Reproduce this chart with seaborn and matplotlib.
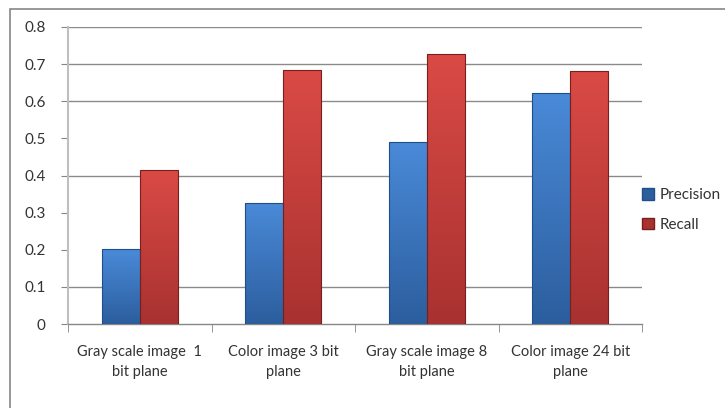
import numpy as np
import pandas as pd
import seaborn as sns
import matplotlib.pyplot as plt
from matplotlib.patches import Rectangle, Patch

categories = ["Gray scale image  1\nbit plane", "Color image 3 bit\nplane",
              "Gray scale image 8\nbit plane", "Color image 24 bit\nplane"]
precision = [0.201, 0.327, 0.491, 0.623]
recall = [0.415, 0.685, 0.728, 0.682]
series = ["Precision", "Recall"]
y_ticks = [0, 0.1, 0.2, 0.3, 0.4, 0.5, 0.6, 0.7, 0.8]
y_labels = ["0", "0.1", "0.2", "0.3", "0.4", "0.5", "0.6", "0.7", "0.8"]
# only these gridlines survive in the reference image
grid_levels = [0.1, 0.4, 0.6, 0.7, 0.8]

df = pd.DataFrame({
    "category": categories * 2,
    "value": precision + recall,
    "series": [series[0]] * 4 + [series[1]] * 4,
})

sns.set_style("white")
plt.rcParams['font.family'] = ['Lato', 'DejaVu Sans']
plt.rcParams['axes.grid'] = False

colors = {"Precision": ("#4A8AD8", "#2C5E9E", "#1F4F8A"),
          "Recall": ("#DA4A45", "#A83230", "#7A1E1E")}

fig = plt.figure(figsize=(7.25, 4.08), dpi=100)
ax = fig.add_axes([68 / 725, 1 - 324 / 408, (642 - 68) / 725, (324 - 27) / 408])

sns.barplot(data=df, x="category", y="value", hue="series",
            palette={k: v[0] for k, v in colors.items()},
            width=0.53, gap=0, ax=ax, legend=False, saturation=1, zorder=3)

# vertical gradient fill on each bar
for patch, name in zip(ax.patches, [series[0]] * 4 + [series[1]] * 4):
    top_c, bot_c, edge_c = colors[name]
    x0, y0 = patch.get_x(), patch.get_y()
    w, h = patch.get_width(), patch.get_height()
    grad = np.linspace(0, 1, 100).reshape(-1, 1)
    cmap = sns.blend_palette([bot_c, top_c], as_cmap=True)
    im = ax.imshow(grad, extent=[x0, x0 + w, y0, y0 + h], origin="lower",
                   cmap=cmap, aspect="auto", zorder=3.5, interpolation="bilinear")
    im.set_clip_path(patch)
    patch.set_edgecolor(edge_c)
    patch.set_linewidth(0.8)
    patch.set_zorder(4)
    patch.set_facecolor("none")

ax.set_xlim(-0.5, 3.5)
ax.set_ylim(0, 0.8)
ax.set_yticks(y_ticks)
ax.set_yticklabels(y_labels)
ax.set_xticks([0, 1, 2, 3])
ax.set_xticklabels(categories, fontsize=10.5, color="#333333", linespacing=1.6)
ax.tick_params(axis="x", length=0, pad=15)
ax.tick_params(axis="y", length=5, color="#868686", labelsize=11, labelcolor="#333333", pad=11, left=True)
# category separator ticks
ax.set_xticks([-0.5, 0.5, 1.5, 2.5, 3.5], minor=True)
ax.tick_params(axis="x", which="minor", length=6, color="#868686", bottom=True)
ax.set_xlabel("")
ax.set_ylabel("")
ax.grid(False, which="both")

for lvl in grid_levels:
    ax.axhline(lvl, color="#8A8A8A", lw=1, zorder=1)

for s in ["top", "right"]:
    ax.spines[s].set_visible(False)
ax.spines["left"].set_color("#BFBFBF")
ax.spines["bottom"].set_color("#868686")
ax.spines["left"].set_linewidth(1.5)
ax.spines["bottom"].set_linewidth(1)

handles = [Patch(facecolor=colors[s][1], edgecolor=colors[s][2], label=s) for s in series]
fig.legend(handles=handles, loc="center left", bbox_to_anchor=(628 / 725, 1 - 210 / 408),
           frameon=False, fontsize=11, handlelength=0.8, handleheight=0.8,
           handletextpad=0.35, labelspacing=1.0, labelcolor="#333333")

fig.patches.append(Rectangle((10 / 725, -0.05), 1.1, 1.05 - 9 / 408,
                             transform=fig.transFigure, fill=False,
                             edgecolor="#868686", lw=1.2))

fig.savefig("out.png", dpi=100)
